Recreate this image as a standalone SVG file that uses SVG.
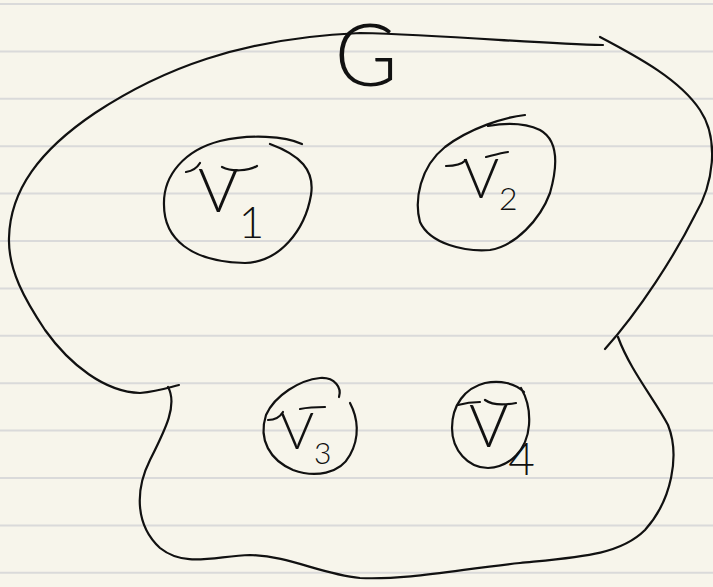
<svg xmlns="http://www.w3.org/2000/svg" width="713" height="587" viewBox="0 0 713 587">
<style>
.ink{fill:none;stroke:#111;stroke-width:2.2;stroke-linecap:round;stroke-linejoin:round}
.rule{stroke:#dadada;stroke-width:2}
.lbl{font-family:Lato,Inter,"Open Sans","Liberation Sans",sans-serif;font-weight:300;fill:#111}
</style>
<rect width="713" height="587" fill="#f7f5eb"/>
<g id="paper">
<line class="rule" x1="0" y1="4" x2="713" y2="4"/>
<line class="rule" x1="0" y1="51.4" x2="713" y2="51.4"/>
<line class="rule" x1="0" y1="98.8" x2="713" y2="98.8"/>
<line class="rule" x1="0" y1="146.2" x2="713" y2="146.2"/>
<line class="rule" x1="0" y1="193.6" x2="713" y2="193.6"/>
<line class="rule" x1="0" y1="241" x2="713" y2="241"/>
<line class="rule" x1="0" y1="288.4" x2="713" y2="288.4"/>
<line class="rule" x1="0" y1="335.8" x2="713" y2="335.8"/>
<line class="rule" x1="0" y1="383.2" x2="713" y2="383.2"/>
<line class="rule" x1="0" y1="430.6" x2="713" y2="430.6"/>
<line class="rule" x1="0" y1="478" x2="713" y2="478"/>
<line class="rule" x1="0" y1="525.4" x2="713" y2="525.4"/>
<line class="rule" x1="0" y1="572.8" x2="713" y2="572.8"/>
</g>
<g id="G">
<path class="ink" d="M179,385 C170,387 160,391 140,393 C105,392 70,365 45,330 C25,300 8,270 9,238 C10,190 40,150 95,113 C160,70 240,38 360,33 C450,35 540,44 603,45"/>
<path class="ink" d="M600,37 C640,58 680,80 700,110 C720,140 713,185 695,215 C675,255 640,310 605,349"/>
<path class="ink" d="M618,337 C630,370 655,400 668,425 C680,455 672,500 645,530 C620,555 580,557 520,563 C460,569 410,580 360,578 C320,574 290,556 250,555 C215,556 185,568 160,548 C135,525 135,490 150,460 C165,430 178,405 168,387"/>
<text class="lbl" x="366" y="86" font-size="86" text-anchor="middle">G</text>
</g>
<g id="V1">
<path class="ink" d="M302,144 C285,136 250,134 220,141 C185,150 163,175 164,205 C164,238 190,262 245,263 C280,262 305,230 311,195 C315,170 300,155 270,144"/>
<path class="ink" d="M186,172 C192,171 197,168 200,163 M222,167 C232,172 248,171 257,166"/>
<text class="lbl" x="198" y="212" font-size="62">V<tspan font-size="44" dy="26">1</tspan></text>
</g>
<g id="V2">
<path class="ink" d="M525,115 C505,117 470,128 445,147 C420,167 414,200 420,222 C430,244 465,252 490,250 C515,246 540,220 550,193 C558,165 558,140 540,130 C525,123 505,123 488,126"/>
<path class="ink" d="M446,166 C455,166 462,164 466,160 M486,157 C494,155 501,153 508,152"/>
<text class="lbl" x="463" y="198" font-size="55">V<tspan font-size="32" dy="12">2</tspan></text>
</g>
<g id="V3">
<path class="ink" d="M339,397 C342,388 335,377 320,378 C300,380 275,395 266,415 C258,440 270,460 293,470 C315,478 340,474 350,455 C360,437 358,418 350,403"/>
<path class="ink" d="M268,420 C275,420 280,417 283,412 M300,409 C310,407 318,407 325,407"/>
<text class="lbl" x="280" y="449" font-size="52">V<tspan font-size="30" dy="15">3</tspan></text>
</g>
<g id="V4">
<path class="ink" d="M524,392 C515,383 500,380 485,383 C465,388 452,405 452,428 C452,450 468,468 488,468 C510,467 527,450 529,425 C530,412 528,400 521,388"/>
<path class="ink" d="M458,405 C465,403 472,402 480,402 M485,400 C492,405 505,405 516,403"/>
<text class="lbl" x="469" y="447" font-size="60">V<tspan font-size="46" dy="28">4</tspan></text>
</g>
<g id="connectors"/>
</svg>
